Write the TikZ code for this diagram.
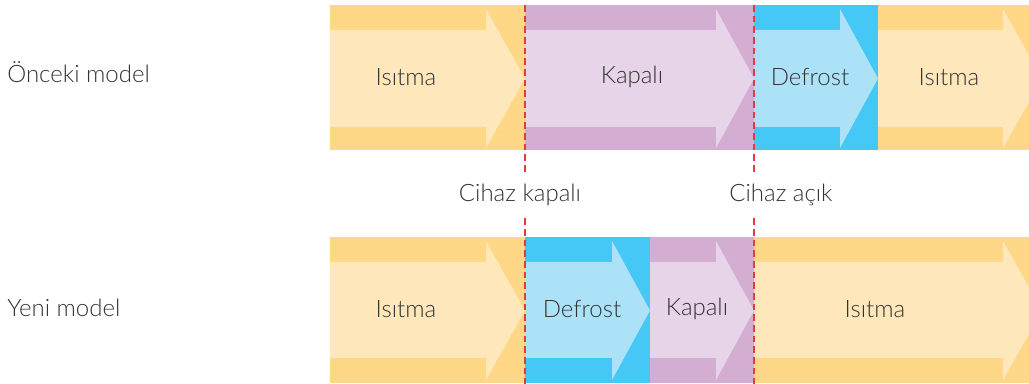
\documentclass[tikz,border=0pt]{standalone}
\usepackage{fontspec}
\IfFontExistsTF{Lato Light}{\setmainfont{Lato Light}}{\setmainfont{Lato}}
\definecolor{ybg}{HTML}{FED886}
\definecolor{yfg}{HTML}{FFE7BC}
\definecolor{pbg}{HTML}{D3ADD2}
\definecolor{pfg}{HTML}{E7D4E8}
\definecolor{bbg}{HTML}{45C8F6}
\definecolor{bfg}{HTML}{ACE2F8}
\definecolor{txt}{HTML}{333333}
\definecolor{redl}{HTML}{E8383F}
\tikzset{
  lbl/.style={text=txt, font=\fontsize{18}{20}\selectfont, inner sep=0pt},
  sidelbl/.style={lbl, anchor=west},
  marker/.style={redl, line width=1.2pt, dash pattern=on 5pt off 3pt},
  cut/.style={lbl, fill=white, minimum height=32pt, inner xsep=2pt},
}
% row geometry: band top/bottom, body top/bottom, head top/bottom
\newcommand{\setrow}[6]{\def\rBT{#1}\def\rBB{#2}\def\rYT{#3}\def\rYB{#4}\def\rHT{#5}\def\rHB{#6}}
% \segm{x0}{x1}{bodyend}{tip}{bg}{fg}
\newcommand{\segm}[6]{%
  \fill[#5] (#1,\rBT) rectangle (#2,\rBB);
  \fill[#6] (#1,\rYT) -- (#3,\rYT) -- (#3,\rHT) -- (#4,{(\rHT+\rHB)/2}) -- (#3,\rHB) -- (#3,\rYB) -- (#1,\rYB) -- cycle;
}
\begin{document}
\begin{tikzpicture}[x=0.75pt,y=-0.75pt]
\useasboundingbox (0,0) rectangle (1029,384);
\clip (0,0) rectangle (1029,384);
% top row
\setrow{5}{150}{30}{127}{9}{148}
\segm{330}{525}{486}{525}{ybg}{yfg}
\segm{525}{754}{716}{754}{pbg}{pfg}
\segm{754}{878}{840}{878}{bbg}{bfg}
\segm{878}{1040}{1003}{1042}{ybg}{yfg}
% bottom row
\setrow{237}{383}{262}{358}{241}{380}
\segm{330}{525}{486}{525}{ybg}{yfg}
\segm{525}{650}{612}{650}{bbg}{bfg}
\segm{650}{754}{716}{754}{pbg}{pfg}
\segm{754}{1040}{1003}{1042}{ybg}{yfg}
% texts
\node[lbl] (t1) at (406,77) {Isıtma};
\node[lbl] (t2) at (632,77) {Kapalı};
\node[lbl] (t3) at (810,77) {Defrost};
\node[lbl] (t4) at (949,77) {Isıtma};
\node[lbl] (b1) at (406,309) {Isıtma};
\node[lbl] (b2) at (582,309) {Defrost};
\node[lbl] (b3) at (697,309) {Kapalı};
\node[lbl] (b4) at (875,309) {Isıtma};
\node[sidelbl] (old) at (7,72) {Önceki model};
\node[sidelbl] (new) at (7,308) {Yeni model};
% markers
\coordinate (m1t) at (525,5);
\coordinate (m1b) at (525,384);
\coordinate (m2t) at (754,5);
\coordinate (m2b) at (754,384);
\draw[marker] (m1t) -- (m1b);
\draw[marker] (m2t) -- (m2b);
\node[cut] (off) at (520,195) {Cihaz kapalı};
\node[cut] (on) at (781,195) {Cihaz açık};
\end{tikzpicture}
\end{document}
